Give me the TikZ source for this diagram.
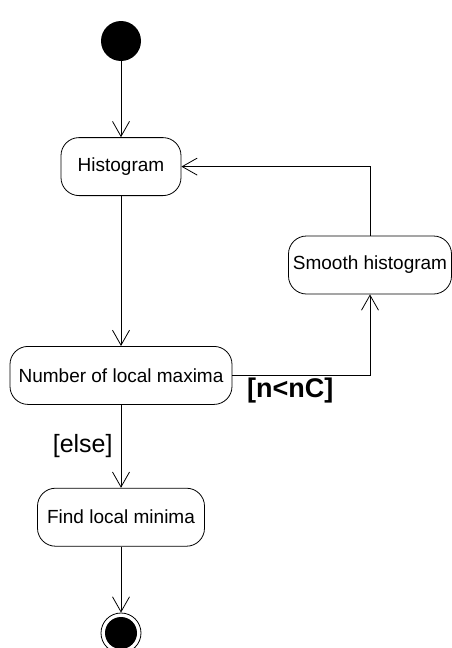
\documentclass[tikz,border=0pt]{standalone}
\usepackage{fontspec}
\setmainfont{Liberation Sans}
\usetikzlibrary{positioning,arrows.meta}

\begin{document}
\begin{tikzpicture}[x=1pt,y=1pt]
	\tikzstyle{every node}=[font=\fontsize{19}{22}\selectfont]
	\tikzstyle{activity}=[draw, rounded corners=18pt, minimum height=58pt, inner sep=0pt, line width=0.8pt]
	\tikzstyle{startdot}=[circle, fill=black, minimum size=40pt, inner sep=0pt]
	\tikzstyle{enddot}=[circle, draw, line width=0.8pt, minimum size=40pt, inner sep=0pt,
		path picture={\fill (path picture bounding box.center) circle (16pt);}]
	\tikzstyle{flow}=[draw, line width=0.8pt, -{Straight Barb[length=15pt,width=17pt]}]
	\tikzstyle{guard}=[inner sep=2pt]

	\useasboundingbox (0,0) rectangle (451,-648);

	\node[startdot] (start) at (121,-41) {};
	\node[activity, minimum width=120pt, below=76pt of start] (hist) {Histogram};
	\node[activity, minimum width=222pt, below=150pt of hist] (num) {Number of local maxima};
	\node[activity, minimum width=167pt, below=83pt of num] (find) {Find local minima};
	\node[enddot, below=66pt of find] (end) {};
	\node[activity, minimum width=163pt] (smooth) at (370,-265) {Smooth histogram};

	\draw[flow] (start) -- (hist);
	\draw[flow] (hist) -- (num);
	\draw[flow] (num) -- node[left, guard, xshift=-6pt, font=\fontsize{25}{28}\selectfont] {[else]} (find);
	\draw[flow] (find) -- (end);
	\draw[flow] (num.east) -| node[pos=0.21, below, guard, font=\fontsize{27}{30}\selectfont\bfseries] {[n<nC]} (smooth.south);
	\draw[flow] (smooth.north) |- (hist.east);
\end{tikzpicture}
\end{document}
